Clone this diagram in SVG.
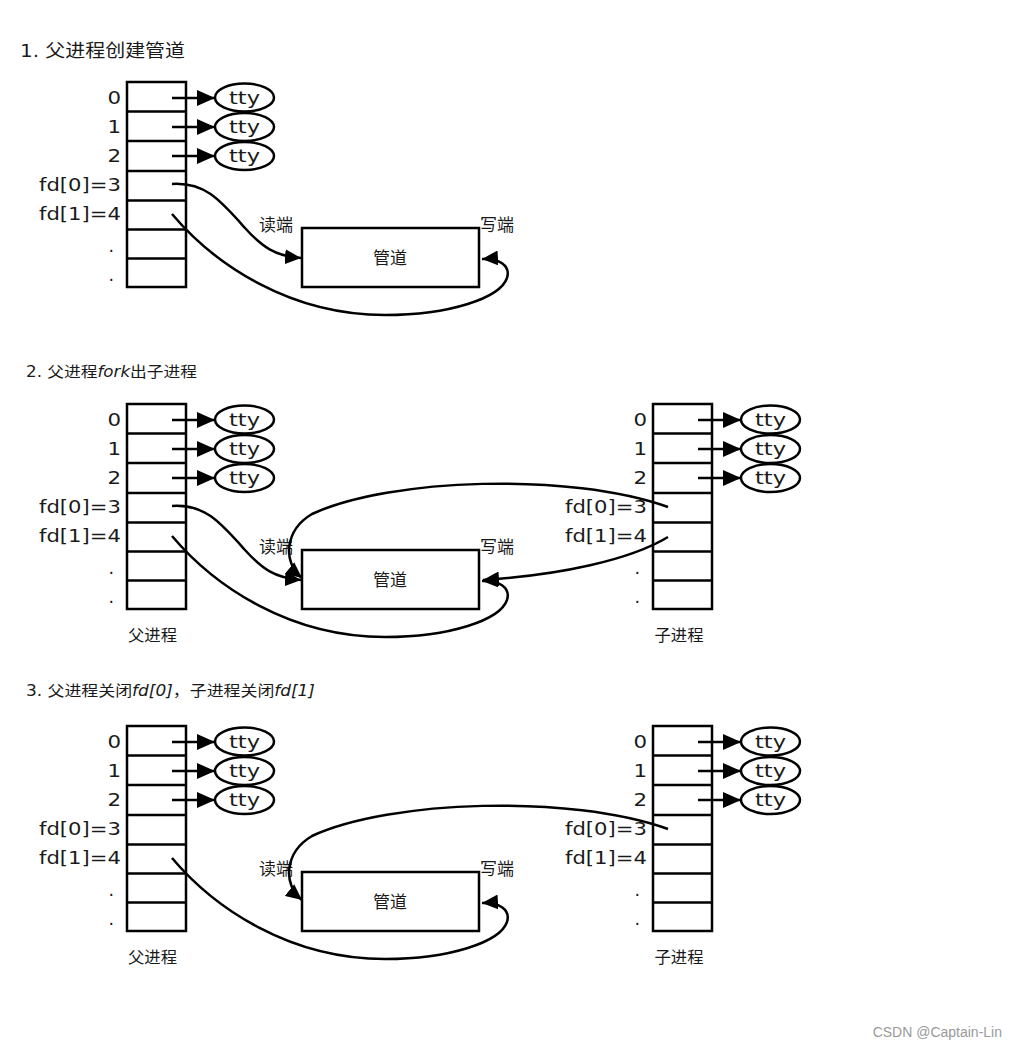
<svg xmlns="http://www.w3.org/2000/svg" width="1017" height="1050" viewBox="0 0 1017 1050">
<defs>
<style>
.box{fill:#fff;stroke:#000;stroke-width:2.5}
.row{stroke:#000;stroke-width:2.5}
.tty{fill:#fff;stroke:#000;stroke-width:2.5}
.lbl{font-family:"DejaVu Sans",sans-serif;font-size:17.5px;fill:#1a1a1a}
.ttyt{font-family:"DejaVu Sans",sans-serif;font-size:17.5px;fill:#1a1a1a;text-anchor:middle}
.cjk{font-family:"DejaVu Sans","Noto Sans CJK SC",sans-serif;fill:#1a1a1a}
.conn{fill:none;stroke:#000;stroke-width:2.5}
.wm{font-family:"Liberation Sans",Arial,sans-serif;font-size:14px;fill:#9a9a9a}
</style>
<marker id="ah" markerUnits="userSpaceOnUse" markerWidth="18" markerHeight="16" refX="18" refY="8" orient="auto">
<path d="M0,0 L18,8 L0,16 z" fill="#000"/>
</marker>
<marker id="ahc" markerUnits="userSpaceOnUse" markerWidth="16" markerHeight="15" refX="16" refY="7.5" orient="auto">
<path d="M0,0 L16,7.5 L0,15 z" fill="#000"/>
</marker>
</defs>
<rect width="1017" height="1050" fill="#fff"/>

<!-- titles -->
<g id="title-1"><text class="cjk" x="20" y="57" font-size="18" textLength="165" lengthAdjust="spacingAndGlyphs" fill="#222">1. 父进程创建管道</text></g>
<g id="title-2"><text class="cjk" x="26" y="377" font-size="15" textLength="171" lengthAdjust="spacingAndGlyphs">2. 父进程<tspan font-style="italic">fork</tspan>出子进程</text></g>
<g id="title-3"><text class="cjk" x="26" y="696" font-size="15" textLength="289" lengthAdjust="spacingAndGlyphs">3. 父进程关闭<tspan font-style="italic">fd[0]</tspan>，子进程关闭<tspan font-style="italic">fd[1]</tspan></text></g>

<!-- Section 1 parent table -->
<g id="s1-parent-table">
<rect class="box" x="127" y="82" width="59" height="205"/>
<path class="row" d="M127,111.5H186M127,141H186M127,171H186M127,200.5H186M127,229.5H186M127,258.5H186"/>
<g class="lbl" text-anchor="end">
<text x="121" y="104" textLength="13.6" lengthAdjust="spacingAndGlyphs">0</text>
<text x="121" y="133" textLength="13.6" lengthAdjust="spacingAndGlyphs">1</text>
<text x="121" y="162" textLength="13.6" lengthAdjust="spacingAndGlyphs">2</text>
<text x="121" y="191" textLength="82" lengthAdjust="spacingAndGlyphs">fd[0]=3</text>
<text x="121" y="220" textLength="82" lengthAdjust="spacingAndGlyphs">fd[1]=4</text>
<text x="114" y="252">.</text>
<text x="114" y="281">.</text>
</g>
</g>
<g id="s1-tty0"><ellipse class="tty" cx="244.5" cy="97.5" rx="29.5" ry="14"/><text class="ttyt" x="244.5" y="103.5" textLength="31" lengthAdjust="spacingAndGlyphs">tty</text></g>
<g id="s1-tty1"><ellipse class="tty" cx="244.5" cy="127" rx="29.5" ry="14"/><text class="ttyt" x="244.5" y="133" textLength="31" lengthAdjust="spacingAndGlyphs">tty</text></g>
<g id="s1-tty2"><ellipse class="tty" cx="244.5" cy="156" rx="29.5" ry="14"/><text class="ttyt" x="244.5" y="162" textLength="31" lengthAdjust="spacingAndGlyphs">tty</text></g>
<g id="s1-pipe">
<rect class="box" x="302" y="228" width="177" height="59"/>
<text class="cjk" x="390" y="264" font-size="17" text-anchor="middle" textLength="34" lengthAdjust="spacingAndGlyphs">管道</text>
<text class="cjk" x="259" y="231" font-size="17" textLength="34" lengthAdjust="spacingAndGlyphs">读端</text>
<text class="cjk" x="480" y="231" font-size="17" textLength="34" lengthAdjust="spacingAndGlyphs">写端</text>
</g>

<!-- Section 2 parent -->
<g id="s2-parent-table" transform="translate(0,322)">
<rect class="box" x="127" y="82" width="59" height="205"/>
<path class="row" d="M127,111.5H186M127,141H186M127,171H186M127,200.5H186M127,229.5H186M127,258.5H186"/>
<g class="lbl" text-anchor="end">
<text x="121" y="104" textLength="13.6" lengthAdjust="spacingAndGlyphs">0</text>
<text x="121" y="133" textLength="13.6" lengthAdjust="spacingAndGlyphs">1</text>
<text x="121" y="162" textLength="13.6" lengthAdjust="spacingAndGlyphs">2</text>
<text x="121" y="191" textLength="82" lengthAdjust="spacingAndGlyphs">fd[0]=3</text>
<text x="121" y="220" textLength="82" lengthAdjust="spacingAndGlyphs">fd[1]=4</text>
<text x="114" y="252">.</text>
<text x="114" y="281">.</text>
</g>
<text class="cjk" x="152.5" y="319" font-size="16" text-anchor="middle" textLength="49" lengthAdjust="spacingAndGlyphs">父进程</text>
</g>
<g id="s2-parent-tty0" transform="translate(0,322)"><ellipse class="tty" cx="244.5" cy="97.5" rx="29.5" ry="14"/><text class="ttyt" x="244.5" y="103.5" textLength="31" lengthAdjust="spacingAndGlyphs">tty</text></g>
<g id="s2-parent-tty1" transform="translate(0,322)"><ellipse class="tty" cx="244.5" cy="127" rx="29.5" ry="14"/><text class="ttyt" x="244.5" y="133" textLength="31" lengthAdjust="spacingAndGlyphs">tty</text></g>
<g id="s2-parent-tty2" transform="translate(0,322)"><ellipse class="tty" cx="244.5" cy="156" rx="29.5" ry="14"/><text class="ttyt" x="244.5" y="162" textLength="31" lengthAdjust="spacingAndGlyphs">tty</text></g>
<g id="s2-pipe" transform="translate(0,322)">
<rect class="box" x="302" y="228" width="177" height="59"/>
<text class="cjk" x="390" y="264" font-size="17" text-anchor="middle" textLength="34" lengthAdjust="spacingAndGlyphs">管道</text>
<text class="cjk" x="259" y="231" font-size="17" textLength="34" lengthAdjust="spacingAndGlyphs">读端</text>
<text class="cjk" x="480" y="231" font-size="17" textLength="34" lengthAdjust="spacingAndGlyphs">写端</text>
</g>
<!-- Section 2 child -->
<g id="s2-child-table" transform="translate(526,322)">
<rect class="box" x="127" y="82" width="59" height="205"/>
<path class="row" d="M127,111.5H186M127,141H186M127,171H186M127,200.5H186M127,229.5H186M127,258.5H186"/>
<g class="lbl" text-anchor="end">
<text x="121" y="104" textLength="13.6" lengthAdjust="spacingAndGlyphs">0</text>
<text x="121" y="133" textLength="13.6" lengthAdjust="spacingAndGlyphs">1</text>
<text x="121" y="162" textLength="13.6" lengthAdjust="spacingAndGlyphs">2</text>
<text x="121" y="191" textLength="82" lengthAdjust="spacingAndGlyphs">fd[0]=3</text>
<text x="121" y="220" textLength="82" lengthAdjust="spacingAndGlyphs">fd[1]=4</text>
<text x="114" y="252">.</text>
<text x="114" y="281">.</text>
</g>
<text class="cjk" x="153" y="319" font-size="16" text-anchor="middle" textLength="49" lengthAdjust="spacingAndGlyphs">子进程</text>
</g>
<g id="s2-child-tty0" transform="translate(526,322)"><ellipse class="tty" cx="244.5" cy="97.5" rx="29.5" ry="14"/><text class="ttyt" x="244.5" y="103.5" textLength="31" lengthAdjust="spacingAndGlyphs">tty</text></g>
<g id="s2-child-tty1" transform="translate(526,322)"><ellipse class="tty" cx="244.5" cy="127" rx="29.5" ry="14"/><text class="ttyt" x="244.5" y="133" textLength="31" lengthAdjust="spacingAndGlyphs">tty</text></g>
<g id="s2-child-tty2" transform="translate(526,322)"><ellipse class="tty" cx="244.5" cy="156" rx="29.5" ry="14"/><text class="ttyt" x="244.5" y="162" textLength="31" lengthAdjust="spacingAndGlyphs">tty</text></g>

<!-- Section 3 parent -->
<g id="s3-parent-table" transform="translate(0,644)">
<rect class="box" x="127" y="82" width="59" height="205"/>
<path class="row" d="M127,111.5H186M127,141H186M127,171H186M127,200.5H186M127,229.5H186M127,258.5H186"/>
<g class="lbl" text-anchor="end">
<text x="121" y="104" textLength="13.6" lengthAdjust="spacingAndGlyphs">0</text>
<text x="121" y="133" textLength="13.6" lengthAdjust="spacingAndGlyphs">1</text>
<text x="121" y="162" textLength="13.6" lengthAdjust="spacingAndGlyphs">2</text>
<text x="121" y="191" textLength="82" lengthAdjust="spacingAndGlyphs">fd[0]=3</text>
<text x="121" y="220" textLength="82" lengthAdjust="spacingAndGlyphs">fd[1]=4</text>
<text x="114" y="252">.</text>
<text x="114" y="281">.</text>
</g>
<text class="cjk" x="152.5" y="319" font-size="16" text-anchor="middle" textLength="49" lengthAdjust="spacingAndGlyphs">父进程</text>
</g>
<g id="s3-parent-tty0" transform="translate(0,644)"><ellipse class="tty" cx="244.5" cy="97.5" rx="29.5" ry="14"/><text class="ttyt" x="244.5" y="103.5" textLength="31" lengthAdjust="spacingAndGlyphs">tty</text></g>
<g id="s3-parent-tty1" transform="translate(0,644)"><ellipse class="tty" cx="244.5" cy="127" rx="29.5" ry="14"/><text class="ttyt" x="244.5" y="133" textLength="31" lengthAdjust="spacingAndGlyphs">tty</text></g>
<g id="s3-parent-tty2" transform="translate(0,644)"><ellipse class="tty" cx="244.5" cy="156" rx="29.5" ry="14"/><text class="ttyt" x="244.5" y="162" textLength="31" lengthAdjust="spacingAndGlyphs">tty</text></g>
<g id="s3-pipe" transform="translate(0,644)">
<rect class="box" x="302" y="228" width="177" height="59"/>
<text class="cjk" x="390" y="264" font-size="17" text-anchor="middle" textLength="34" lengthAdjust="spacingAndGlyphs">管道</text>
<text class="cjk" x="259" y="231" font-size="17" textLength="34" lengthAdjust="spacingAndGlyphs">读端</text>
<text class="cjk" x="480" y="231" font-size="17" textLength="34" lengthAdjust="spacingAndGlyphs">写端</text>
</g>
<!-- Section 3 child -->
<g id="s3-child-table" transform="translate(526,644)">
<rect class="box" x="127" y="82" width="59" height="205"/>
<path class="row" d="M127,111.5H186M127,141H186M127,171H186M127,200.5H186M127,229.5H186M127,258.5H186"/>
<g class="lbl" text-anchor="end">
<text x="121" y="104" textLength="13.6" lengthAdjust="spacingAndGlyphs">0</text>
<text x="121" y="133" textLength="13.6" lengthAdjust="spacingAndGlyphs">1</text>
<text x="121" y="162" textLength="13.6" lengthAdjust="spacingAndGlyphs">2</text>
<text x="121" y="191" textLength="82" lengthAdjust="spacingAndGlyphs">fd[0]=3</text>
<text x="121" y="220" textLength="82" lengthAdjust="spacingAndGlyphs">fd[1]=4</text>
<text x="114" y="252">.</text>
<text x="114" y="281">.</text>
</g>
<text class="cjk" x="153" y="319" font-size="16" text-anchor="middle" textLength="49" lengthAdjust="spacingAndGlyphs">子进程</text>
</g>
<g id="s3-child-tty0" transform="translate(526,644)"><ellipse class="tty" cx="244.5" cy="97.5" rx="29.5" ry="14"/><text class="ttyt" x="244.5" y="103.5" textLength="31" lengthAdjust="spacingAndGlyphs">tty</text></g>
<g id="s3-child-tty1" transform="translate(526,644)"><ellipse class="tty" cx="244.5" cy="127" rx="29.5" ry="14"/><text class="ttyt" x="244.5" y="133" textLength="31" lengthAdjust="spacingAndGlyphs">tty</text></g>
<g id="s3-child-tty2" transform="translate(526,644)"><ellipse class="tty" cx="244.5" cy="156" rx="29.5" ry="14"/><text class="ttyt" x="244.5" y="162" textLength="31" lengthAdjust="spacingAndGlyphs">tty</text></g>

<!-- connectors -->
<g id="connectors">
<g id="tty-arrows" class="conn" marker-end="url(#ah)">
<path d="M172,98H215"/><path d="M172,127H215"/><path d="M172,156H215"/>
<path d="M172,420H215"/><path d="M172,449H215"/><path d="M172,478H215"/>
<path d="M698,420H741"/><path d="M698,449H741"/><path d="M698,478H741"/>
<path d="M172,742H215"/><path d="M172,771H215"/><path d="M172,800H215"/>
<path d="M698,742H741"/><path d="M698,771H741"/><path d="M698,800H741"/>
</g>
<g id="pipe-arrows" class="conn" marker-end="url(#ahc)">
<path id="s1-fd0" d="M172,184 C205,182 220,200 245,228 C262,247 275,256 301,258"/>
<path id="s1-fd1" d="M172,214 C215,265 290,315 385,315 C450,315 500,298 507,278 C511,265 498,258 482,259"/>
<path id="s2-p-fd0" d="M172,506 C205,504 220,522 245,550 C262,569 275,578 301,580"/>
<path id="s2-p-fd1" d="M172,536 C215,587 290,637 385,637 C450,637 500,620 507,600 C511,587 498,580 482,581"/>
<path id="s2-c-fd0" d="M668,507 C570,472 390,478 312,514 C285,530 282,562 302,578"/>
<path id="s2-c-fd1" d="M668,537 C630,560 560,575 483,580"/>
<path id="s3-p-fd1" d="M172,858 C215,909 290,959 385,959 C450,959 500,942 507,922 C511,909 498,902 482,903"/>
<path id="s3-c-fd0" d="M668,829 C570,794 390,800 312,836 C285,852 282,884 302,900"/>
</g>
</g>

<text class="wm" x="1002" y="1037" text-anchor="end">CSDN @Captain-Lin</text>
</svg>
